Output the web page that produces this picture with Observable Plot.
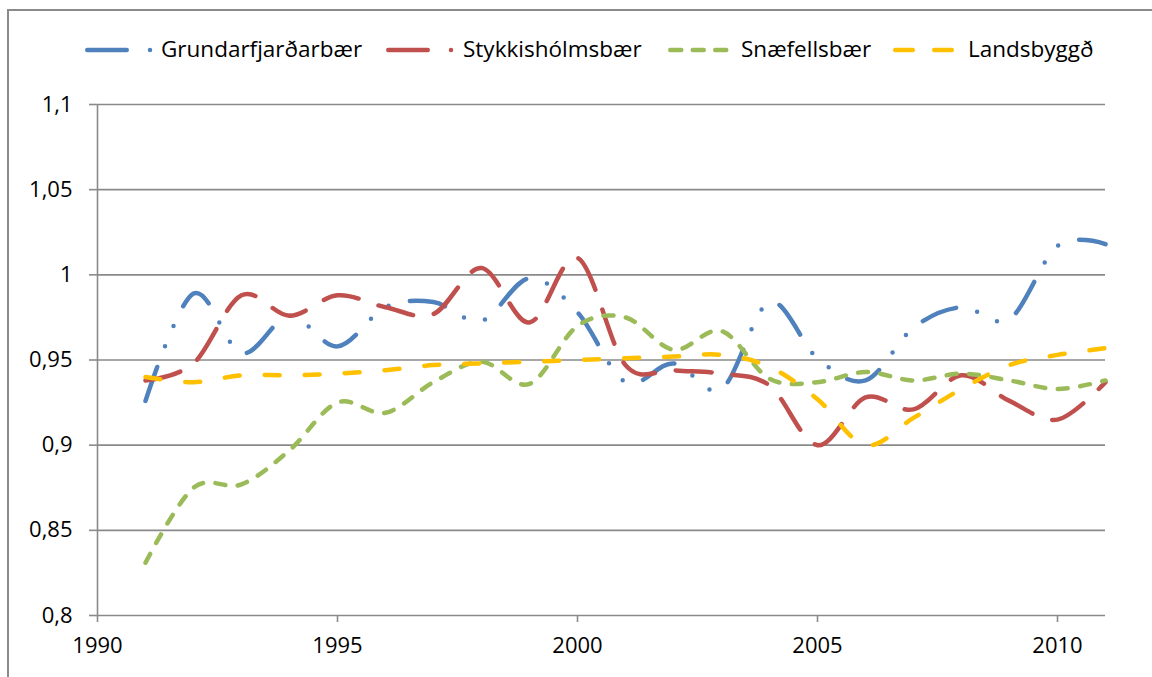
<!DOCTYPE html>
<html>
<head>
<meta charset="utf-8">
<script src="https://cdn.jsdelivr.net/npm/d3@7"></script>
<script src="https://cdn.jsdelivr.net/npm/@observablehq/plot@0.6"></script>
<style>
  body { margin: 0; background: #fff; font-family: "Open Sans", sans-serif; }
  #wrap { position: relative; width: 1152px; height: 677px; overflow: hidden; background: #fff; }
  #border { position: absolute; left: 7px; top: 9px; width: 2000px; height: 2000px;
            border-left: 2px solid #8a8a8a; border-top: 2px solid #8a8a8a; pointer-events: none; }
  #legend { position: relative; height: 80px; }
  .item { position: absolute; top: 36px; height: 28px; display: flex; align-items: center; }
  .item svg { display: block; }
  .label { position: absolute; top: 34px; font-size: 22.5px; line-height: 30px; color: #000; white-space: nowrap; }
  #chart svg { display: block; }
</style>
</head>
<body>
<div id="wrap">
  <div id="legend"></div>
  <div id="chart"></div>
  <div id="border"></div>
</div>
<script>
// ---- data ----
const years = [1991,1992,1993,1994,1995,1996,1997,1998,1999,2000,2001,2002,2003,2004,2005,2006,2007,2008,2009,2010,2011];
const grundarfjardarbaer = [0.926,0.989,0.954,0.976,0.958,0.981,0.984,0.973,0.998,0.978,0.937,0.948,0.933,0.984,0.951,0.938,0.969,0.981,0.974,1.017,1.018];
const stykkisholmsbaer  = [0.938,0.948,0.988,0.976,0.988,0.981,0.977,1.004,0.972,1.010,0.947,0.944,0.942,0.935,0.900,0.928,0.921,0.941,0.926,0.915,0.937];
const snaefellsbaer     = [0.831,0.875,0.877,0.897,0.925,0.919,0.937,0.949,0.936,0.970,0.975,0.956,0.967,0.939,0.937,0.943,0.938,0.942,0.938,0.933,0.938];
const landsbyggd        = [0.940,0.937,0.941,0.941,0.942,0.944,0.947,0.948,0.949,0.950,0.951,0.952,0.953,0.946,0.927,0.900,0.916,0.933,0.947,0.953,0.957];
const seriesNames = ["Grundarfjarðarbær","Stykkishólmsbær","Snæfellsbær","Landsbyggð"];
const xTicks = [1990,1995,2000,2005,2010];
const yTicks = [0.8,0.85,0.9,0.95,1,1.05,1.1];

// ---- styles ----
const colors = ["#4F81BD","#C0504D","#9BBB59","#FFC000"];
const dashes = ["36 22 0 22 0 22","36 21","10 12.5","15 25"];
const legendDash = ["39.5 23.25 0 100","39.5 23.25 0 100","11 11.5","17.5 21.5"];
const legendSampleX = [85,386,668,893];
const legendSampleW = [70,70,62,64];
const legendTextX = [161,463,741,968];

const values = [grundarfjardarbaer, stykkisholmsbaer, snaefellsbaer, landsbyggd];
const rows = [];
seriesNames.forEach((name, i) => years.forEach((yr, j) => rows.push({series: name, year: yr, value: values[i][j]})));

const fmt = d => String(d).replace(".", ",");
const gray = "#8a8a8a";

const plot = Plot.plot({
  width: 1152,
  height: 597,
  marginTop: 24,
  marginBottom: 62,
  marginLeft: 97,
  marginRight: 47,
  x: {domain: [1990, 2011]},
  y: {domain: [0.8, 1.1]},
  style: {fontFamily: "Open Sans", fontSize: "22px", color: "#000", background: "transparent", overflow: "visible"},
  marks: [
    Plot.gridY(yTicks, {stroke: gray, strokeOpacity: 1, strokeWidth: 1.6}),
    Plot.ruleX([1990], {y1: 0.8, y2: 1.1, stroke: gray, strokeWidth: 1.6}),
    Plot.axisY(yTicks, {tickSize: 8, tickPadding: 17, stroke: gray, strokeWidth: 1.6, fill: "#000", tickFormat: fmt, fontSize: 22, label: null}),
    Plot.axisX(xTicks, {tickSize: 7, tickPadding: 15, stroke: gray, strokeWidth: 1.6, fill: "#000", tickFormat: d => String(d), fontSize: 22, label: null}),
    ...seriesNames.map((name, i) => Plot.line(rows.filter(r => r.series === name), {
      x: "year", y: "value", stroke: colors[i], strokeWidth: 4.5,
      strokeDasharray: dashes[i], strokeLinecap: "round", curve: "cardinal"
    }))
  ]
});
document.getElementById("chart").appendChild(plot);

// ---- legend ----
const legend = document.getElementById("legend");
seriesNames.forEach((name, i) => {
  const item = document.createElement("div");
  item.className = "item";
  item.style.left = legendSampleX[i] + "px";
  const w = legendSampleW[i];
  item.innerHTML = `<svg width="${w}" height="28"><line x1="2.25" y1="14" x2="${w - 2}" y2="14" stroke="${colors[i]}" stroke-width="4.5" stroke-linecap="round" stroke-dasharray="${legendDash[i]}"/></svg>`;
  legend.appendChild(item);
  const lab = document.createElement("div");
  lab.className = "label";
  lab.style.left = legendTextX[i] + "px";
  lab.textContent = name;
  legend.appendChild(lab);
});
</script>
</body>
</html>
